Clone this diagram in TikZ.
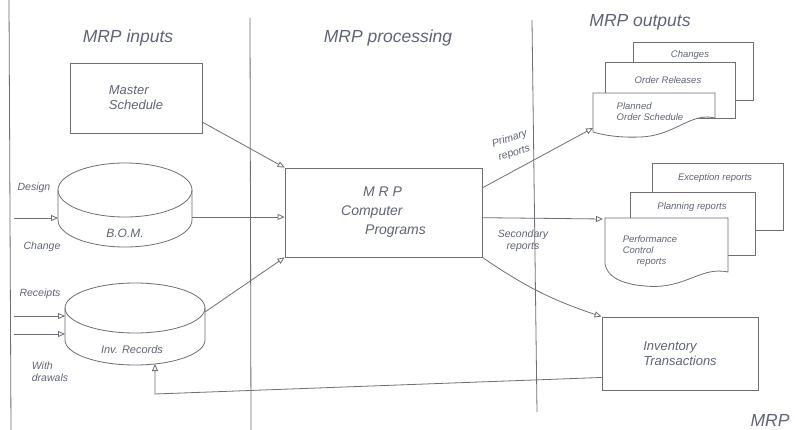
\documentclass[tikz,border=0pt]{standalone}
\usepackage{fontspec}
\setmainfont{Liberation Sans}
\usetikzlibrary{arrows.meta}
\definecolor{ink}{RGB}{95,100,118}
\definecolor{pen}{RGB}{110,110,116}
\begin{document}
\begin{tikzpicture}[x=1pt,y=-1pt,line width=0.8pt,color=pen,
  every node/.style={text=ink},
  box/.style={draw=pen,fill=white,inner sep=3pt},
  arr/.style={-{Triangle[open,length=7pt,width=6pt]}},
  head/.style={font=\fontsize{17.5}{19}\selectfont\itshape},
  lab/.style={font=\fontsize{10.5}{12}\selectfont\itshape,align=center},
  btxt/.style={font=\fontsize{13}{15}\selectfont\itshape,align=left},
  stxt/.style={font=\fontsize{9.5}{11}\selectfont\itshape,align=left},
  sheet/.style={draw=pen,fill=white}]
\fill[white] (0,0) rectangle (795,430);
\useasboundingbox (0,0) rectangle (795,430);

% column borders
\draw (9,0) -- (11,430);
\draw (250,18) -- (251,430);
\draw (532,20) -- (537,412);

% headers
\node[head] (hin) at (128,38) {MRP inputs};
\node[head] (hpr) at (388,38) {MRP processing};
\node[head] (hout) at (640,22) {MRP outputs};

% master schedule
\node[box,minimum width=132pt,minimum height=70pt,btxt] (ms) at (136,98) {Master\\Schedule};

% B.O.M. disc
\draw (125,190) ellipse [x radius=67pt,y radius=27pt];
\draw (58,190) -- (58,220) arc[start angle=180,end angle=360,x radius=67pt,y radius=27pt] -- (192,190);
\node[font=\fontsize{12}{14}\selectfont\itshape] (bom) at (125,233) {B.O.M.};
\coordinate (bomR) at (192,217);
\coordinate (bomL) at (58,218);
\coordinate (dcL) at (14,218);
\node[lab] (dsg) at (34,188) {Design};
\node[lab] (chg) at (42,247) {Change};
\draw[arr] (dcL) -- (bomL);

% inventory records disc
\draw (135,308) ellipse [x radius=70pt,y radius=25pt];
\draw (65,308) -- (65,340) arc[start angle=180,end angle=360,x radius=70pt,y radius=25pt] -- (205,308);
\node[font=\fontsize{11}{13}\selectfont\itshape] (inv) at (132,350) {Inv. Records};
\coordinate (invL) at (65,316);
\coordinate (invL2) at (65,334);
\coordinate (invR) at (205,312);
\coordinate (invB) at (155,364);
\coordinate (rcL) at (14,316);
\coordinate (wdL) at (14,334);
\node[lab] (rcp) at (40,294) {Receipts};
\node[lab,align=left] (wdr) at (50,372) {With\\drawals};
\draw[arr] (rcL) -- (invL);
\draw[arr] (wdL) -- (invL2);

% MRP computer programs
\node[box,minimum width=197pt,minimum height=89pt,font=\fontsize{14}{19}\selectfont\itshape,align=left] (mrp) at (383.5,212.5)
  {\hspace*{22pt}M R P\\Computer\\\hspace*{24pt}Programs};

\draw[arr] (ms.-20) -- (mrp.north west);
\draw[arr] (bomR) -- (mrp.west |- bomR);
\draw[arr] (invR) -- (mrp.south west);

% primary reports stack
\draw[sheet] (633,42) rectangle (753,100);
\node[stxt] (chs) at (690,55) {Changes};
\draw[sheet] (605,62) rectangle (735,118);
\node[stxt] (orl) at (668,80) {Order Releases};
\draw[sheet] (593,93) -- (715,93) -- (715,118) .. controls (690,112) and (675,136) .. (640,137) .. controls (615,138) and (600,134) .. (593,132) -- cycle;
\node[stxt] (pos) at (650,112) {Planned\\Order Schedule};
\coordinate (pfL) at (593,128);
\draw[arr] (mrp.14) -- (pfL);
\node[lab,rotate=18,font=\fontsize{10.5}{15}\selectfont\itshape] (prl) at (512,146) {Primary\\reports};

% secondary reports stack
\draw[sheet] (652,163) rectangle (783,230);
\node[stxt] (exr) at (715,178) {Exception reports};
\draw[sheet] (630,192) rectangle (755,255);
\node[stxt] (plr) at (692,207) {Planning reports};
\draw[sheet] (605,218) -- (728,218) -- (728,272) .. controls (700,266) and (685,290) .. (645,286) .. controls (620,284) and (607,276) .. (605,264) -- cycle;
\node[stxt] (pcr) at (650,251) {Performance\\Control\\\hspace*{14pt}reports};
\coordinate (sfL) at (603,219);
\draw[arr] (mrp.-3) -- (sfL);
\node[lab] (srl) at (523,241) {Secondary\\reports};

% inventory transactions
\node[box,minimum width=156pt,minimum height=73pt,btxt] (it) at (680,353.5) {Inventory\\Transactions};
\draw[arr] (mrp.south east) to[bend right=8] (it.north west);
\coordinate (fb) at (155,394);
\draw[arr] (it.197) -- (fb) -- (invB);

% label at the lower edge
\node[head,anchor=south] (mrpc) at (770,430) {MRP};
\end{tikzpicture}
\end{document}
